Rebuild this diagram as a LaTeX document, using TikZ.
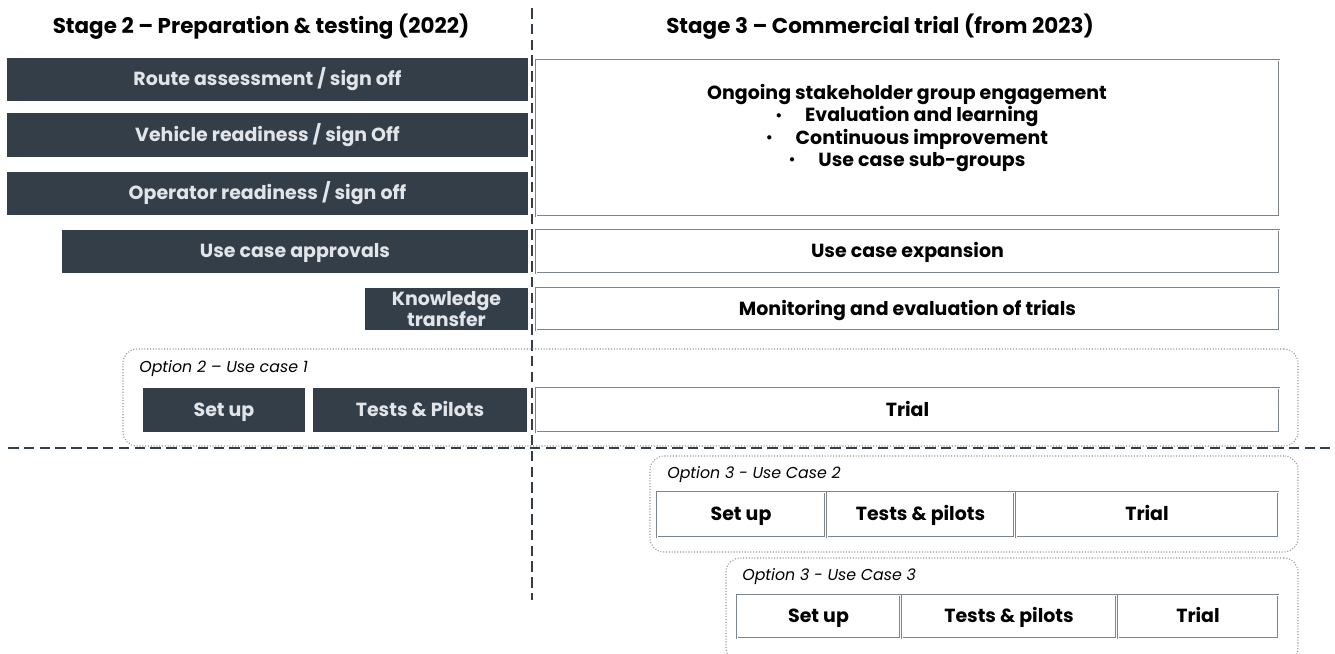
\documentclass[tikz,border=0pt]{standalone}
\usepackage{fontspec}
\setmainfont{Poppins}

\definecolor{slate}{HTML}{343E48}
\definecolor{paper}{HTML}{E1E5E9}
\definecolor{rim}{HTML}{7C848C}
\definecolor{dots}{HTML}{8E959C}

\newcommand{\dotmark}{\raisebox{0.1em}{\fontsize{8}{8}\selectfont\textbullet}\hspace{1.2em}}

\begin{document}
\begin{tikzpicture}
  [x=0.02cm,y=-0.02cm,
   cell/.style n args={4}{at={({(#1+#3)/2},{(#2+#4)/2})},
     minimum width={(#3-#1)*0.02cm},minimum height={(#4-#2)*0.02cm}},
   oneline/.style={text height=0.7em,text depth=0pt},
   darkbox/.style={fill=slate,inner sep=0pt,text=paper,align=center,
     font=\bfseries\fontsize{10.8}{12.5}\selectfont},
   openbox/.style={draw=rim,double=white,double distance=0.5pt,line width=0.4pt,oneline,
     inner sep=0pt,text=black,align=center,font=\bfseries\fontsize{10.8}{12.5}\selectfont},
   frame/.style={draw=dots,densely dotted,line width=0.6pt,rounded corners=8pt,inner sep=0pt},
   optlabel/.style={anchor=west,inner sep=0pt,font=\itshape\fontsize{9}{10}\selectfont},
   heading/.style={font=\bfseries\fontsize{12.2}{14}\selectfont},
   divider/.style={draw=slate,dashed,dash pattern=on 6pt off 3pt,line width=0.8pt}]
  \useasboundingbox (0,0) rectangle (1335,653);

  % headings and dividers
  \node[heading] (st2) at (261,27) {Stage 2 – Preparation \& testing (2022)};
  \node[heading] (st3) at (880,27) {Stage 3 – Commercial trial (from 2023)};
  \coordinate (vtop) at (532,8);
  \coordinate (vbot) at (532,600);
  \coordinate (hleft) at (8,448);
  \coordinate (hright) at (1330,448);
  \draw[divider] (vtop) -- (vbot);
  \draw[divider] (hleft) -- (hright);

  % stage 2
  \node[darkbox,oneline,cell={7}{58}{528}{101}] (route) {Route assessment / sign off};
  \node[darkbox,oneline,cell={7}{113}{528}{157}] (vehicle) {Vehicle readiness / sign Off};
  \node[darkbox,oneline,cell={7}{172}{528}{215}] (operator) {Operator readiness / sign off};
  \node[darkbox,oneline,cell={62}{230}{528}{273}] (approvals) {Use case approvals};
  \node[darkbox,cell={365}{288}{528}{330},font=\bfseries\fontsize{10.8}{11.5}\selectfont]
    (knowledge) {Knowledge\\transfer};

  % stage 3
  \node[openbox,cell={536}{60}{1279}{216}] (ongoing) {};
  \node[align=center,font=\bfseries\fontsize{10.8}{12.6}\selectfont] (ongoingtxt) at (907,128)
    {Ongoing stakeholder group engagement\\
     \dotmark Evaluation and learning\\
     \dotmark Continuous improvement\\
     \dotmark Use case sub-groups};
  \node[openbox,cell={536}{230}{1279}{273}] (expansion) {Use case expansion};
  \node[openbox,cell={536}{288}{1279}{330}] (monitoring) {Monitoring and evaluation of trials};

  % option 2
  \node[frame,cell={123}{349}{1298}{446}] (opt2) {};
  \node[optlabel] (opt2lbl) at (139,369) {Option 2 – Use case 1};
  \node[darkbox,oneline,cell={143}{388}{305}{432}] (setupA) {Set up};
  \node[darkbox,oneline,cell={313}{388}{527}{432}] (testsA) {Tests \& Pilots};
  \node[openbox,cell={536}{388}{1279}{432}] (trialA) {Trial};

  % option 3, use case 2
  \node[frame,cell={650}{456}{1298}{552}] (opt3a) {};
  \node[optlabel] (opt3albl) at (667,475) {Option 3 - Use Case 2};
  \node[openbox,cell={657}{492}{825}{537}] (setupB) {Set up};
  \node[openbox,cell={827}{492}{1014}{537}] (testsB) {Tests \& pilots};
  \node[openbox,cell={1016}{492}{1278}{537}] (trialB) {Trial};

  % option 3, use case 3
  \node[frame,cell={726}{558}{1298}{662}] (opt3b) {};
  \node[optlabel] (opt3blbl) at (742,577) {Option 3 - Use Case 3};
  \node[openbox,cell={737}{595}{900}{638}] (setupC) {Set up};
  \node[openbox,cell={902}{595}{1116}{638}] (testsC) {Tests \& pilots};
  \node[openbox,cell={1118}{595}{1278}{638}] (trialC) {Trial};
\end{tikzpicture}
\end{document}
